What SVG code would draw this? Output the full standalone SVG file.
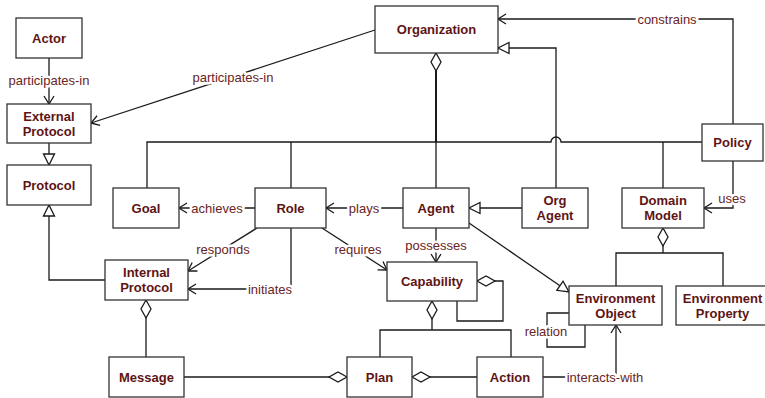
<svg xmlns="http://www.w3.org/2000/svg" width="765" height="398" viewBox="0 0 765 398">
<defs>
<style>
.box{fill:#fff;stroke:#333;stroke-width:1.3}
.nt{font-family:"Liberation Sans",Arial,sans-serif;font-size:13px;font-weight:bold;fill:#5e1414;text-anchor:middle}
.ln{fill:none;stroke:#1a1a1a;stroke-width:1.3}
.lb{font-family:"Liberation Sans",Arial,sans-serif;font-size:13px;fill:#6a2424;text-anchor:middle;stroke:#fff;stroke-width:5;paint-order:stroke;stroke-linejoin:round}
</style>
<marker id="arr" markerUnits="userSpaceOnUse" markerWidth="12" markerHeight="12" viewBox="-10 -6 12 12" refX="0" refY="0" orient="auto" overflow="visible">
<path d="M-8,-5 L0,0 L-8,5" fill="none" stroke="#1a1a1a" stroke-width="1.3"/>
</marker>
<marker id="tri" markerUnits="userSpaceOnUse" markerWidth="14" markerHeight="14" viewBox="-12 -7 14 14" refX="0" refY="0" orient="auto" overflow="visible">
<path d="M-11,-5.5 L0,0 L-11,5.5 Z" fill="#fff" stroke="#1a1a1a" stroke-width="1.3"/>
</marker>
<marker id="dia" markerUnits="userSpaceOnUse" markerWidth="20" markerHeight="12" viewBox="-19 -6 20 12" refX="0" refY="0" orient="auto" overflow="visible">
<path d="M0,0 L-9,-5 L-18,0 L-9,5 Z" fill="#fff" stroke="#1a1a1a" stroke-width="1.3"/>
</marker>
</defs>
<rect width="765" height="398" fill="#fff"/>

<g id="connectors">
<!-- Actor -> External Protocol -->
<path class="ln" d="M49,58 V104" marker-end="url(#arr)"/>
<!-- Organization -> External Protocol -->
<path class="ln" d="M375,30 L91,123" marker-end="url(#arr)"/>
<!-- External Protocol -> Protocol -->
<path class="ln" d="M49,143 V165" marker-end="url(#tri)"/>
<!-- Internal Protocol -> Protocol -->
<path class="ln" d="M105,280 H49 V205" marker-end="url(#tri)"/>
<!-- Organization aggregation tree -->
<path class="ln" d="M147,188 V142 H551 A5,5 0 0 1 561,142 H702"/>
<path class="ln" d="M291,188 V142"/>
<path class="ln" d="M436,188 V142"/>
<path class="ln" d="M663,188 V142"/>
<path class="ln" style="stroke-width:2" d="M436,142 V53" marker-end="url(#dia)"/>
<!-- Org Agent -> Organization -->
<path class="ln" d="M556,188 V48 H498" marker-end="url(#tri)"/>
<!-- Policy -> Organization constrains -->
<path class="ln" d="M733,124 V19 H498" marker-end="url(#arr)"/>
<!-- Policy -> Domain Model uses -->
<path class="ln" d="M733,161 V208 H704" marker-end="url(#arr)"/>
<!-- Role -> Goal achieves -->
<path class="ln" d="M255,208 H179" marker-end="url(#arr)"/>
<!-- Agent -> Role plays -->
<path class="ln" d="M403,208 H326" marker-end="url(#arr)"/>
<!-- Org Agent -> Agent -->
<path class="ln" d="M522,208 H469" marker-end="url(#tri)"/>
<!-- Agent -> Environment Object -->
<path class="ln" d="M469,223 L569,292" marker-end="url(#tri)"/>
<!-- Agent -> Capability possesses -->
<path class="ln" d="M436,228 V262" marker-end="url(#arr)"/>
<!-- Role -> Capability requires -->
<path class="ln" d="M322,228 L387,270" marker-end="url(#arr)"/>
<!-- Role -> Internal Protocol responds -->
<path class="ln" d="M257,228 L188,271" marker-end="url(#arr)"/>
<!-- Role -> Internal Protocol initiates -->
<path class="ln" d="M291,228 V289 H188" marker-end="url(#arr)"/>
<!-- Message -> Internal Protocol -->
<path class="ln" d="M146,357 V300" marker-end="url(#dia)"/>
<!-- Message -> Plan -->
<path class="ln" d="M184,377 H347" marker-end="url(#dia)"/>
<!-- Action -> Plan -->
<path class="ln" d="M477,377 H412" marker-end="url(#dia)"/>
<!-- Capability aggregation -->
<path class="ln" d="M380,357 V330 H511 V357"/>
<path class="ln" d="M432,330 V301" marker-end="url(#dia)"/>
<!-- Capability self -->
<path class="ln" d="M457,301 V321 H503 V281 H477" marker-end="url(#dia)"/>
<!-- Environment Object relation -->
<path class="ln" d="M569,313 H547 V347 H585 V325"/>
<!-- Action -> Environment Object interacts-with -->
<path class="ln" d="M543,377 H616 V325" marker-end="url(#arr)"/>
<!-- Domain Model aggregation -->
<path class="ln" d="M616,286 V253 H723 V286"/>
<path class="ln" d="M663,253 V228" marker-end="url(#dia)"/>

<!-- labels -->
<text class="lb" x="49" y="84.5">participates-in</text>
<text class="lb" x="233" y="81.5">participates-in</text>
<text class="lb" x="667" y="23.5">constrains</text>
<text class="lb" x="732" y="202.5">uses</text>
<text class="lb" x="217" y="212.5">achieves</text>
<text class="lb" x="364" y="212.5">plays</text>
<text class="lb" x="436" y="249.5">possesses</text>
<text class="lb" x="223" y="253.5">responds</text>
<text class="lb" x="358" y="253.5">requires</text>
<text class="lb" x="270" y="293.5">initiates</text>
<text class="lb" x="546" y="335.5">relation</text>
<text class="lb" x="605" y="381.5">interacts-with</text>
</g>

<g id="actor"><rect class="box" x="16" y="18" width="66" height="40"/><text class="nt" x="49" y="42.5">Actor</text></g>
<g id="external-protocol"><rect class="box" x="7" y="104" width="84" height="39"/><text class="nt" x="49" y="120.5">External</text><text class="nt" x="49" y="135.5">Protocol</text></g>
<g id="protocol"><rect class="box" x="7" y="165" width="84" height="40"/><text class="nt" x="49" y="189.5">Protocol</text></g>
<g id="organization"><rect class="box" x="375" y="6" width="123" height="47"/><text class="nt" x="436.5" y="34">Organization</text></g>
<g id="policy"><rect class="box" x="702" y="124" width="61" height="37"/><text class="nt" x="732.5" y="147">Policy</text></g>
<g id="goal"><rect class="box" x="113" y="188" width="66" height="40"/><text class="nt" x="146" y="212.5">Goal</text></g>
<g id="role"><rect class="box" x="255" y="188" width="71" height="40"/><text class="nt" x="290.5" y="212.5">Role</text></g>
<g id="agent"><rect class="box" x="403" y="188" width="66" height="40"/><text class="nt" x="436" y="212.5">Agent</text></g>
<g id="org-agent"><rect class="box" x="522" y="188" width="66" height="40"/><text class="nt" x="555" y="205">Org</text><text class="nt" x="555" y="220">Agent</text></g>
<g id="domain-model"><rect class="box" x="622" y="188" width="82" height="40"/><text class="nt" x="663" y="205">Domain</text><text class="nt" x="663" y="220">Model</text></g>
<g id="internal-protocol"><rect class="box" x="105" y="260" width="83" height="40"/><text class="nt" x="146.5" y="277">Internal</text><text class="nt" x="146.5" y="292">Protocol</text></g>
<g id="capability"><rect class="box" x="387" y="262" width="90" height="39"/><text class="nt" x="432" y="286">Capability</text></g>
<g id="environment-object"><rect class="box" x="569" y="286" width="93" height="39"/><text class="nt" x="615.5" y="302.5">Environment</text><text class="nt" x="615.5" y="317.5">Object</text></g>
<g id="environment-property"><rect class="box" x="676" y="286" width="93" height="39"/><text class="nt" x="722.5" y="302.5">Environment</text><text class="nt" x="722.5" y="317.5">Property</text></g>
<g id="message"><rect class="box" x="109" y="357" width="75" height="40"/><text class="nt" x="146.5" y="381.5">Message</text></g>
<g id="plan"><rect class="box" x="347" y="357" width="65" height="40"/><text class="nt" x="379.5" y="381.5">Plan</text></g>
<g id="action"><rect class="box" x="477" y="357" width="66" height="40"/><text class="nt" x="510" y="381.5">Action</text></g>
</svg>
